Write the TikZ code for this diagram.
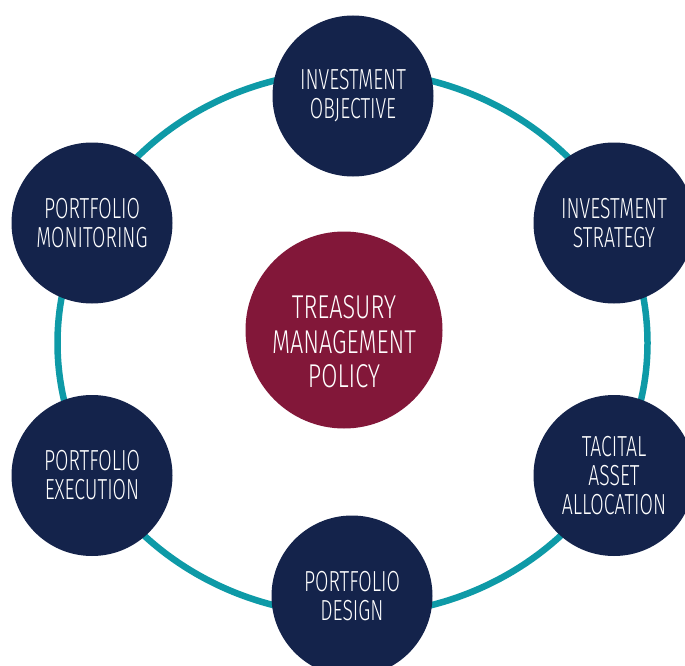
\documentclass[tikz,border=0pt]{standalone}
\usepackage{fontspec}
\setmainfont{Fira Sans}[UprightFont={* Light}, FakeStretch=0.67]
\newfontfamily\hubfont{Fira Sans}[UprightFont={* Light}, FakeStretch=0.71]
\definecolor{navy}{HTML}{14234B}
\definecolor{wine}{HTML}{821739}
\definecolor{ringteal}{HTML}{0E9AA7}
\begin{document}
\begin{tikzpicture}[x=1pt,y=-1pt,
  stage/.style={circle,fill=navy,minimum size=161pt,inner sep=0pt,text=white,align=center,font=\fontsize{29}{29}\selectfont},
  hub/.style={circle,fill=wine,minimum size=197pt,inner sep=0pt},
  hubtext/.style={text=white,align=center,inner sep=0pt,font=\hubfont\fontsize{33}{34.5}\selectfont},
  ring/.style={draw=ringteal,line width=6.5pt}]
\useasboundingbox (0,0) rectangle (685,666);
\clip (0,0) rectangle (685,666);
\fill[white] (0,0) rectangle (685,666);
\coordinate (c) at (352.5,343);
\draw[ring] (c) ellipse [x radius=295, y radius=272];
\node[hub] (hub) at (344,330) {};
\node[hubtext] (hubt) at (344,342) {TREASURY\\MANAGEMENT\\POLICY};
\node[stage] (obj) at (353,96) {INVESTMENT\\OBJECTIVE};
\node[stage] (strat) at (614,223) {INVESTMENT\\STRATEGY};
\node[stage] (taa) at (614,475.5) {TACITAL\\ASSET\\ALLOCATION};
\node[stage] (design) at (352,596) {PORTFOLIO\\DESIGN};
\node[stage] (exec) at (92,475.5) {PORTFOLIO\\EXECUTION};
\node[stage] (mon) at (92,223) {PORTFOLIO\\MONITORING};
\end{tikzpicture}
\end{document}
